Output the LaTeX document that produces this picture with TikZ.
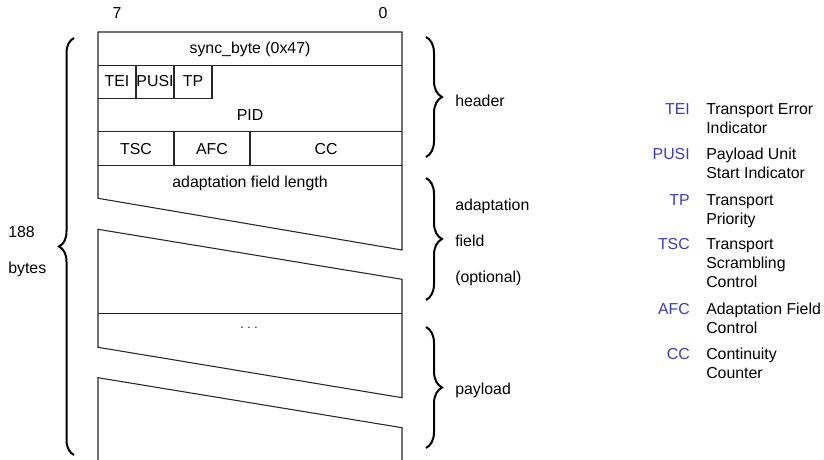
\documentclass[tikz,border=0pt]{standalone}
\usepackage{fontspec}
\setmainfont{Liberation Sans}
\usetikzlibrary{decorations.pathreplacing}
\definecolor{abbr}{RGB}{60,60,180}
\begin{document}
\begin{tikzpicture}[x=0.75pt,y=-0.75pt,
  lbl/.style={font=\fontsize{11.9}{14}\selectfont, inner sep=0pt, anchor=base},
  lblw/.style={lbl, anchor=base west},
  abbrv/.style={lbl, anchor=base east, text=abbr},
  frame/.style={draw=black!85, line width=0.8pt},
  lbrace/.style={decorate, decoration={brace, amplitude=11.25pt}, line width=1.5pt},
  rbrace/.style={decorate, decoration={brace, amplitude=12pt}, line width=1.5pt},
]
\useasboundingbox (0,0) rectangle (824,460);

% bit numbers
\node[lbl] (b7) at (117,19) {7};
\node[lbl] (b0) at (383,19) {0};

% header block + first adaptation piece
\draw[frame] (98,198.3) -- (98,32) -- (402,32) -- (402,250) -- cycle;
\draw[frame] (98,65.3) -- (402,65.3);
\draw[frame] (98,98.3) -- (212,98.3) -- (212,65.3);
\draw[frame] (136,65.3) -- (136,98.3);
\draw[frame] (174,65.3) -- (174,98.3);
\draw[frame] (98,131.7) -- (402,131.7);
\draw[frame] (98,165.7) -- (402,165.7);
\draw[frame] (174,131.7) -- (174,165.7);
\draw[frame] (250,131.7) -- (250,165.7);

% second piece
\draw[frame] (98,229.3) -- (402,279.3) -- (402,397.7) -- (98,347.3) -- cycle;
\draw[frame] (98,313.7) -- (402,313.7);

% third piece
\draw[frame] (98,460) -- (98,377.7) -- (402,427.7) -- (402,460);

% cell texts
\node[lbl] (sync) at (250,54) {sync\_byte (0x47)};
\node[lbl] (tei) at (117,87) {TEI};
\node[lbl] (pusi) at (155,87) {PUSI};
\node[lbl] (tp) at (193,87) {TP};
\node[lbl] (pid) at (250,120) {PID};
\node[lbl] (tsc) at (136,154) {TSC};
\node[lbl] (afc) at (212,154) {AFC};
\node[lbl] (cc) at (326,154) {CC};
\node[lbl] (afl) at (250,187) {adaptation field length};
\node[inner sep=0pt, anchor=base, font=\fontsize{9}{10}\selectfont] (dots) at (249,328) {.\hspace{2.75pt}.\hspace{2.75pt}.};

% braces
\draw[lbrace] (74,455) -- (74,38);
\draw[rbrace] (426,37) -- (426,157);
\draw[rbrace] (426,178) -- (426,300);
\draw[rbrace] (426,327) -- (426,448);

% side labels
\node[lblw] (n188) at (8,237) {188};
\node[lblw] (nbytes) at (8,273) {bytes};
\node[lblw] (hdr) at (455,106) {header};
\node[lblw] (ad1) at (455,210) {adaptation};
\node[lblw] (ad2) at (455,246) {field};
\node[lblw] (ad3) at (455,282) {(optional)};
\node[lblw] (pay) at (455,394) {payload};

% legend
\node[abbrv] (kTEI) at (690,114) {TEI};
\node[lblw] (dTEIa) at (706,114) {Transport Error};
\node[lblw] (dTEIb) at (706,133) {Indicator};
\node[abbrv] (kPUSI) at (690,159) {PUSI};
\node[lblw] (dPUSIa) at (706,159) {Payload Unit};
\node[lblw] (dPUSIb) at (706,178) {Start Indicator};
\node[abbrv] (kTP) at (690,205) {TP};
\node[lblw] (dTPa) at (706,205) {Transport};
\node[lblw] (dTPb) at (706,224) {Priority};
\node[abbrv] (kTSC) at (690,249) {TSC};
\node[lblw] (dTSCa) at (706,249) {Transport};
\node[lblw] (dTSCb) at (706,268) {Scrambling};
\node[lblw] (dTSCc) at (706,287) {Control};
\node[abbrv] (kAFC) at (690,314) {AFC};
\node[lblw] (dAFCa) at (706,314) {Adaptation Field};
\node[lblw] (dAFCb) at (706,333) {Control};
\node[abbrv] (kCC) at (690,359) {CC};
\node[lblw] (dCCa) at (706,359) {Continuity};
\node[lblw] (dCCb) at (706,378) {Counter};
\end{tikzpicture}
\end{document}
